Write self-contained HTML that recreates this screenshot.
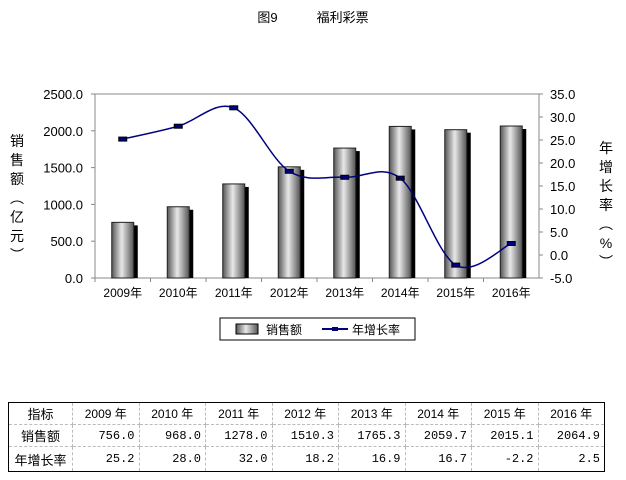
<!DOCTYPE html>
<html><head><meta charset="utf-8">
<style>
body{margin:0;background:#fff;width:626px;height:480px;overflow:hidden;font-family:"Liberation Sans","Noto Sans CJK SC",sans-serif;}
svg text{font-family:"Liberation Sans","Noto Sans CJK SC",sans-serif;}
table{position:absolute;left:8px;top:402px;width:597px;table-layout:fixed;border-collapse:collapse;font-family:"Liberation Mono","Noto Sans CJK SC",monospace;font-size:12px;}
td{border:1px dashed #bbb;height:21px;padding:0 4px;text-align:right;overflow:hidden;white-space:nowrap;}
td.h{text-align:center;font-family:"Liberation Sans","Noto Sans CJK SC",sans-serif;font-size:13px;}
tr:first-child td{border-top:1px solid #000;text-align:center;font-family:"Liberation Sans","Noto Sans CJK SC",sans-serif;}
tr:last-child td{border-bottom:1px solid #000;height:24px;}
td:first-child{border-left:1px solid #000;}
td:last-child{border-right:1px solid #000;}
</style></head><body>
<svg width="626" height="400" style="position:absolute;left:0;top:0">
<defs><linearGradient id="g" x1="0" x2="1"><stop offset="0" stop-color="#555"/><stop offset="0.45" stop-color="#e8e8e8"/><stop offset="1" stop-color="#555"/></linearGradient></defs>
<text x="313" y="22" font-size="13" text-anchor="middle">图9　　　福利彩票</text>
<g id="plot"></g>
<g>
<rect x="220" y="318" width="195" height="22" fill="#fff" stroke="#000"/>
<rect x="236" y="324" width="22" height="10" fill="url(#g)" stroke="#000"/>
<text x="266" y="334" font-size="12">销售额</text>
<line x1="322" y1="329" x2="348" y2="329" stroke="#000080" stroke-width="2"/>
<rect x="332" y="327" width="6" height="4" fill="#000080"/>
<text x="352" y="334" font-size="12">年增长率</text>
</g>
</svg>
<table>
<colgroup><col style="width:64px"><col span="8"></colgroup>
<tr><td class="h">指标</td><td>2009 年</td><td>2010 年</td><td>2011 年</td><td>2012 年</td><td>2013 年</td><td>2014 年</td><td>2015 年</td><td>2016 年</td></tr>
<tr><td class="h">销售额</td><td>756.0</td><td>968.0</td><td>1278.0</td><td>1510.3</td><td>1765.3</td><td>2059.7</td><td>2015.1</td><td>2064.9</td></tr>
<tr><td class="h">年增长率</td><td>25.2</td><td>28.0</td><td>32.0</td><td>18.2</td><td>16.9</td><td>16.7</td><td>-2.2</td><td>2.5</td></tr>
</table>
<script>
const categories=["2009年","2010年","2011年","2012年","2013年","2014年","2015年","2016年"];
const sales=[756.0,968.0,1278.0,1510.3,1765.3,2059.7,2015.1,2064.9];
const growth=[25.2,28.0,32.0,18.2,16.9,16.7,-2.2,2.5];
const leftTicks=[0,500,1000,1500,2000,2500];
const rightTicks=[-5,0,5,10,15,20,25,30,35];
const NS="http://www.w3.org/2000/svg";
const L=95,R=539,T=94,B=278;
const bw=(R-L)/categories.length;
const xc=i=>L+bw*(i+0.5);
const yL=v=>B-(v-0)/(2500-0)*(B-T);
const yR=v=>B-(v+5)/(35+5)*(B-T);
const g=document.getElementById('plot');
function mk(t,a,p){const e=document.createElementNS(NS,t);for(const k in a)e.setAttribute(k,a[k]);(p||g).appendChild(e);return e;}
let e=mk('rect',{x:L,y:T,width:R-L,height:B-T,fill:'none',stroke:'#888'});


leftTicks.forEach(v=>{mk('line',{x1:L-4,x2:L,y1:yL(v),y2:yL(v),stroke:'#888'});
const t=mk('text',{x:L-12,y:yL(v)+5,'font-size':13,'text-anchor':'end'});t.textContent=v.toFixed(1);

});
rightTicks.forEach(v=>{mk('line',{x1:R,x2:R+4,y1:yR(v),y2:yR(v),stroke:'#888'});
const t=mk('text',{x:550,y:yR(v)+5,'font-size':13});t.textContent=v.toFixed(1);

});
categories.forEach((c,i)=>{
mk('line',{x1:L+bw*i,x2:L+bw*i,y1:B,y2:B+4,stroke:'#888'});
const x=xc(i),w=22,y=yL(sales[i]);
mk('rect',{x:x-w/2+4,y:y+3,width:w,height:B-y-3,fill:'#000'});
const b=mk('rect',{x:x-w/2,y:y,width:w,height:B-y,fill:'url(#g)',stroke:'#222'});


const t=mk('text',{x:x,y:B+19,'font-size':12,'text-anchor':'middle','font-family':'Liberation Serif,Noto Serif CJK SC,serif'});t.textContent=c;

});
const pts=growth.map((v,i)=>[xc(i),yR(v)]);
let d='M'+pts[0];
for(let i=0;i<pts.length-1;i++){const p0=pts[i-1]||pts[i],p1=pts[i],p2=pts[i+1],p3=pts[i+2]||p2;
d+=` C${p1[0]+(p2[0]-p0[0])/6},${p1[1]+(p2[1]-p0[1])/6} ${p2[0]-(p3[0]-p1[0])/6},${p2[1]-(p3[1]-p1[1])/6} ${p2[0]},${p2[1]}`;}
const ln=mk('path',{d:d,fill:'none',stroke:'#000080','stroke-width':1.5});


pts.forEach(p=>{const m=mk('rect',{x:p[0]-4,y:p[1]-2,width:8,height:4,fill:'#000080',stroke:'#000'});

});
function vt(x,y0,chars,name){chars.forEach((c,i)=>{const t=mk('text',{x:x,y:y0+i*19,'font-size':14,'text-anchor':'middle'});t.textContent=c;

});}
vt(17,146,["销","售","额","︵","亿","元","︶"],'y-left-title');
vt(606,153,["年","增","长","率","︵","%","︶"],'y-right-title');
</script>
</body></html>
